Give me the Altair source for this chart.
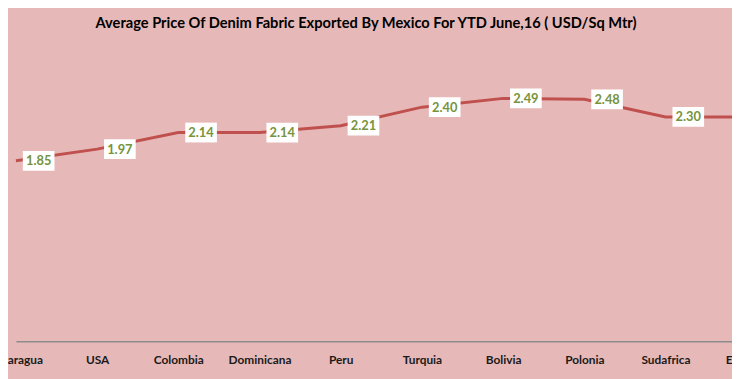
import altair as alt
import pandas as pd

countries = ["Nicaragua", "USA", "Colombia", "Dominicana", "Peru",
             "Turquia", "Bolivia", "Polonia", "Sudafrica", "Ecuador"]
prices = [1.85, 1.97, 2.14, 2.14, 2.21, 2.40, 2.49, 2.48, 2.30, 2.30]
title_text = "Average Price Of Denim Fabric Exported By Mexico For YTD June,16 ( USD/Sq Mtr)"

df = pd.DataFrame({
    "country": countries,
    "price": prices,
    "label": [f"{p:.2f}" for p in prices],
})

W, H = 732, 296
FONT = "Lato"

x = alt.X(
    "country:N",
    sort=countries,
    scale=alt.Scale(type="point", domain=countries, padding=0,
                    range=[8, 8 + 82.1 * 9]),
    axis=alt.Axis(
        title=None, labelAngle=0, ticks=False, grid=False,
        domainColor="#8c8c8c", domainWidth=1.5,
        labelFont=FONT, labelFontWeight="bold", labelFontSize=12,
        labelColor="#1a1a1a", labelPadding=13, labelOverlap=False,
    ),
)
y = alt.Y("price:Q", scale=alt.Scale(domain=[0, 3]), axis=None)

base = alt.Chart(df).encode(x=x, y=y)

line = base.mark_line(color="#C0504D", strokeWidth=3)
boxes = base.mark_rect(color="white", width=32, height=20, xOffset=23)
texts = base.mark_text(
    dx=23, dy=0.5, color="#77933C", font=FONT, fontWeight="bold", fontSize=13
).encode(text="label:N")

chart = (
    alt.layer(line, boxes, texts)
    .properties(
        width=W,
        height=H,
        autosize=alt.AutoSizeParams(type="none"),
        padding={"left": 0, "right": 0, "top": 39, "bottom": 36},
        title=alt.TitleParams(
            text=title_text, font=FONT, fontWeight="bold", fontSize=14.8,
            color="#000000", anchor="middle", offset=18, dx=-4,
        ),
    )
    .configure(background="#E6B9B8")
    .configure_view(stroke=None)
)

chart.save("out.html", embed_options={"renderer": "svg", "actions": False})
